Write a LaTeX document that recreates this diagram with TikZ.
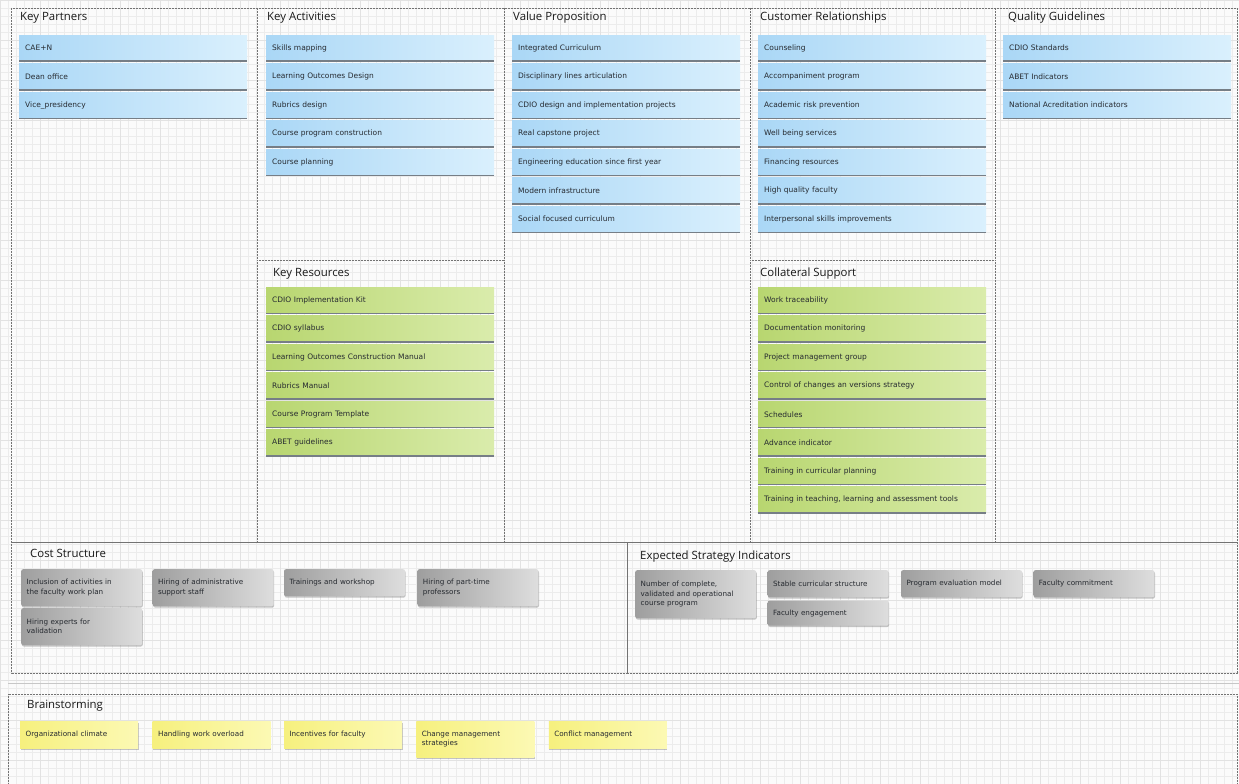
\documentclass[tikz,border=0pt]{standalone}
\usepackage{fontspec}
\setmainfont{DejaVu Sans}
\newfontfamily\headfont{Open Sans}
\usetikzlibrary{shadows,positioning}
\definecolor{ink}{RGB}{25,25,25}
\definecolor{note}{RGB}{38,42,48}
\definecolor{skyA}{RGB}{170,215,246}
\definecolor{skyB}{RGB}{218,240,253}
\definecolor{leafA}{RGB}{184,214,112}
\definecolor{leafB}{RGB}{218,236,172}
\definecolor{stoneA}{RGB}{158,158,158}
\definecolor{stoneB}{RGB}{222,222,222}
\definecolor{lemonA}{RGB}{246,240,126}
\definecolor{lemonB}{RGB}{252,249,180}
\definecolor{rimgray}{RGB}{118,126,134}
\definecolor{paper}{RGB}{251,251,251}
\definecolor{gridc}{RGB}{236,236,236}
\definecolor{gridd}{RGB}{226,226,226}
\tikzset{
  heading/.style={anchor=west,inner sep=0pt,font=\headfont\fontsize{11.4}{13}\selectfont,text=ink},
  card/.style={anchor=north west,left color=#1A,right color=#1B,minimum width=228pt,minimum height=26pt,
    text width=216pt,inner xsep=6pt,inner ysep=0pt,align=left,font=\fontsize{7.5}{9}\selectfont,text=note},
  card/.default=sky,
  cardrim/.style={draw=rimgray,line width=1.8pt},
  note/.style={anchor=north west,left color=#1A,right color=#1B,rounded corners=2pt,
    minimum width=121pt,minimum height=27pt,text width=110pt,inner xsep=5.5pt,inner ysep=2pt,
    align=left,font=\fontsize{7.2}{9.4}\selectfont,text=note,
    drop shadow={shadow xshift=0.6pt,shadow yshift=-1.4pt,opacity=0.45}},
  note/.default=stone,
  idea/.style={note=lemon,rounded corners=0pt,minimum width=118pt,text width=107pt},
  frame/.style={draw=black!55,line width=0.8pt,dash pattern=on 0.6pt off 0.9pt},
  sepline/.style={draw=black!22,line width=0.8pt},
}

\begin{document}
\begin{tikzpicture}[x=1pt,y=-1pt]
  \useasboundingbox (0,0) rectangle (1239,784);
  \fill[paper] (0,0) rectangle (1239,784);
  \draw[gridc,line width=0.4pt,step=8pt] (0,0) grid (1239,784);
  \draw[gridd,line width=0.4pt,step=40pt] (0,0) grid (1239,784);

  % canvas blocks
  \draw[frame] (11,8) rectangle (1237,542);
  \foreach \x in {257,504,750,995} \draw[frame] (\x,8) -- (\x,542);
  \draw[frame] (257,260) -- (504,260);
  \draw[frame] (750,260) -- (995,260);
  \draw[frame] (11,542) rectangle (627,673);
  \draw[frame] (627,542) rectangle (1237,673);
  \draw[sepline] (8,683) -- (1239,683);
  \draw[frame] (8,694) rectangle (1237,800);

  % headings
  \node[heading] (hkp) at (20,18) {Key Partners};
  \node[heading] (hka) at (267,18) {Key Activities};
  \node[heading] (hvp) at (513,18) {Value Proposition};
  \node[heading] (hcr) at (760,18) {Customer Relationships};
  \node[heading] (hqg) at (1008,18) {Quality Guidelines};
  \node[heading] (hkr) at (273,274) {Key Resources};
  \node[heading] (hcs) at (760,274) {Collateral Support};
  \node[heading] (hcost) at (30,553) {Cost Structure};
  \node[heading] (hei) at (640,557) {Expected Strategy Indicators};
  \node[heading] (hbs) at (27,706) {Brainstorming};

  % blue cards
  \foreach \t [count=\i] in {CAE+N,Dean office,Vice\_presidency}{
    \node[card] (kp\i) at (19,{35+28.5*(\i-1)}) {\t};
    \draw[cardrim] (kp\i.south west) -- (kp\i.south east);
  }
  \foreach \t [count=\i] in {Skills mapping,Learning Outcomes Design,Rubrics design,
      Course program construction,Course planning}{
    \node[card] (ka\i) at (266,{35+28.5*(\i-1)}) {\t};
    \draw[cardrim] (ka\i.south west) -- (ka\i.south east);
  }
  \foreach \t [count=\i] in {Integrated Curriculum,Disciplinary lines articulation,
      CDIO design and implementation projects,Real capstone project,
      Engineering education since first year,Modern infrastructure,Social focused curriculum}{
    \node[card] (vp\i) at (512,{35+28.5*(\i-1)}) {\t};
    \draw[cardrim] (vp\i.south west) -- (vp\i.south east);
  }
  \foreach \t [count=\i] in {Counseling,Accompaniment program,Academic risk prevention,
      Well being services,Financing resources,High quality faculty,
      Interpersonal skills improvements}{
    \node[card] (cr\i) at (758,{35+28.5*(\i-1)}) {\t};
    \draw[cardrim] (cr\i.south west) -- (cr\i.south east);
  }
  \foreach \t [count=\i] in {CDIO Standards,ABET Indicators,National Acreditation indicators}{
    \node[card] (qg\i) at (1003,{35+28.5*(\i-1)}) {\t};
    \draw[cardrim] (qg\i.south west) -- (qg\i.south east);
  }

  % green cards
  \foreach \t [count=\i] in {CDIO Implementation Kit,CDIO syllabus,
      Learning Outcomes Construction Manual,Rubrics Manual,Course Program Template,
      ABET guidelines}{
    \node[card=leaf] (kr\i) at (266,{287+28.5*(\i-1)}) {\t};
    \draw[cardrim] (kr\i.south west) -- (kr\i.south east);
  }
  \foreach \t [count=\i] in {Work traceability,Documentation monitoring,
      Project management group,Control of changes an versions strategy,Schedules,
      Advance indicator,Training in curricular planning,
      {Training in teaching, learning and assessment tools}}{
    \node[card=leaf] (cs\i) at (758,{287+28.5*(\i-1)}) {\t};
    \draw[cardrim] (cs\i.south west) -- (cs\i.south east);
  }

  % cost structure
  \node[note,minimum height=37pt] (co1) at (21,569) {Inclusion of activities in\\the faculty work plan};
  \node[note,minimum height=37pt,below=1.5pt of co1.south west,anchor=north west] (co2) {Hiring experts for\\validation};
  \node[note,minimum height=37pt,right=10pt of co1.north east,anchor=north west] (co3) {Hiring of administrative\\support staff};
  \node[note,right=10pt of co3.north east,anchor=north west] (co4) {Trainings and workshop};
  \node[note,minimum height=37pt,right=12pt of co4.north east,anchor=north west] (co5) {Hiring of part-time\\professors};

  % expected strategy indicators
  \node[note,minimum height=48pt] (ei1) at (635,570) {Number of complete,\\validated and operational\\course program};
  \node[note,right=11pt of ei1.north east,anchor=north west] (ei2) {Stable curricular structure};
  \node[note,minimum height=25pt,below=3pt of ei2.south west,anchor=north west] (ei3) {Faculty engagement};
  \node[note,right=12pt of ei2.north east,anchor=north west] (ei4) {Program evaluation model};
  \node[note,right=11pt of ei4.north east,anchor=north west] (ei5) {Faculty commitment};

  % brainstorming
  \node[idea] (bs1) at (20,721) {Organizational climate};
  \node[idea,right=14pt of bs1.north east,anchor=north west] (bs2) {Handling work overload};
  \node[idea,right=13pt of bs2.north east,anchor=north west] (bs3) {Incentives for faculty};
  \node[idea,minimum height=36pt,right=14pt of bs3.north east,anchor=north west] (bs4) {Change management\\strategies};
  \node[idea,right=14pt of bs4.north east,anchor=north west] (bs5) {Conflict management};
\end{tikzpicture}
\end{document}
